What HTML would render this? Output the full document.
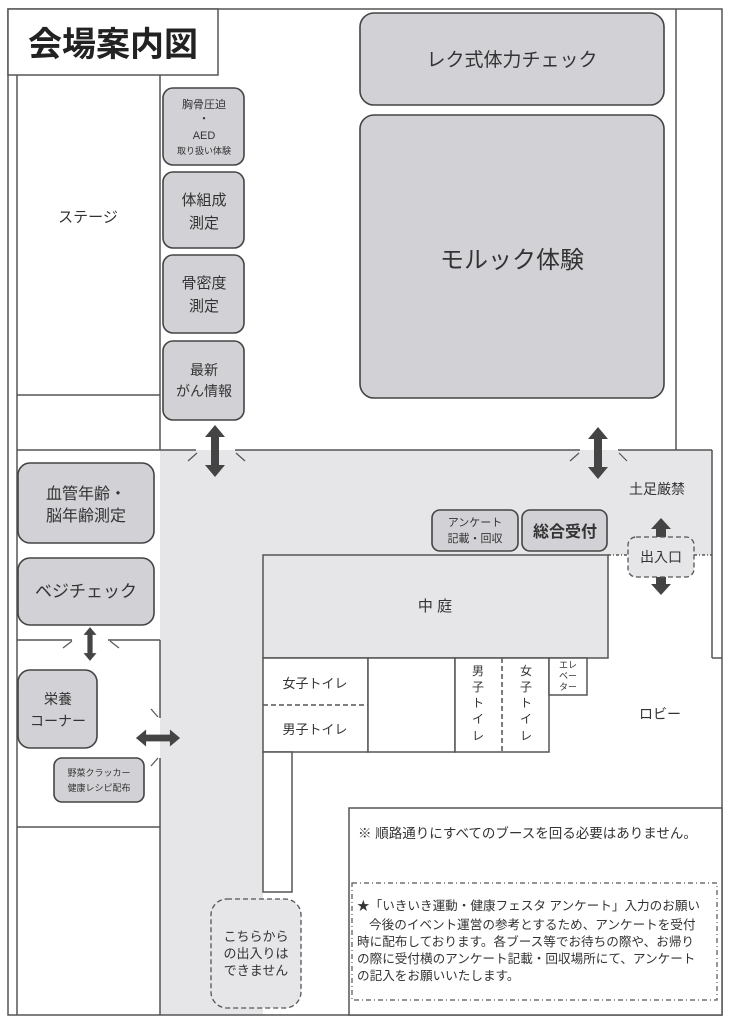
<!DOCTYPE html>
<html><head><meta charset="utf-8"><style>
html,body{margin:0;padding:0;background:#fff;}
svg{display:block;font-family:"Liberation Sans","Noto Sans CJK JP",sans-serif;}
</style></head><body>
<svg width="734" height="1024" viewBox="0 0 734 1024" xmlns="http://www.w3.org/2000/svg">
<defs>
<g id="av"><polygon points="0,-26 -10,-14 -4,-14 -4,14 -10,14 0,26 10,14 4,14 4,-14 10,-14" fill="#444"/></g>
</defs>
<rect width="734" height="1024" fill="#fff"/>
<path d="M160,450 H712 V555 H263 V1015 H160 Z" fill="#e6e6e8"/>
<g stroke="#555" stroke-width="1.5" fill="none">
<rect x="8" y="9" width="714" height="1006"/>
<line x1="676" y1="9" x2="676" y2="450"/>
<line x1="17" y1="75" x2="17" y2="1015"/>
<line x1="160" y1="75" x2="160" y2="450"/>
<line x1="17" y1="395" x2="160" y2="395"/>
<line x1="17" y1="450" x2="196" y2="450"/>
<line x1="235" y1="450" x2="580" y2="450"/>
<line x1="618" y1="450" x2="712" y2="450"/>
<line x1="712" y1="450" x2="712" y2="658"/>
<line x1="712" y1="658" x2="722" y2="658"/>
<line x1="17" y1="640" x2="72" y2="640"/>
<line x1="108" y1="640" x2="160" y2="640"/>
<line x1="160" y1="640" x2="160" y2="718"/>
<line x1="160" y1="758" x2="160" y2="1015"/>
<line x1="17" y1="827" x2="160" y2="827"/>
<rect x="263" y="555" width="345" height="103" fill="#e6e6e8"/>
<rect x="263" y="658" width="105" height="94" fill="#fff"/>
<line x1="263" y1="705" x2="368" y2="705" stroke-dasharray="5,3"/>
<rect x="368" y="658" width="87" height="94" fill="#fff"/>
<rect x="455" y="658" width="94" height="94" fill="#fff"/>
<line x1="502" y1="658" x2="502" y2="752" stroke-dasharray="5,3"/>
<rect x="549" y="658" width="38" height="37" fill="#fff"/>
<rect x="263" y="752" width="29" height="140" fill="#fff"/>
<line x1="608" y1="555" x2="628" y2="555" stroke-dasharray="3,2,1,2"/>
<line x1="694" y1="555" x2="712" y2="555" stroke-dasharray="3,2,1,2"/>
<rect x="349" y="808" width="373" height="207" fill="#fff"/>
</g>
<g stroke="#555" stroke-width="1.2">
<line x1="188" y1="461" x2="197" y2="453"/><line x1="236" y1="453" x2="245" y2="461"/>
<line x1="570" y1="461" x2="579" y2="453"/><line x1="619" y1="453" x2="627" y2="461"/>
<line x1="63" y1="648" x2="72" y2="641"/><line x1="110" y1="641" x2="119" y2="648"/>
<line x1="151" y1="709" x2="158" y2="717"/><line x1="151" y1="766" x2="158" y2="758"/>
</g>
<rect x="8" y="9" width="210" height="66" fill="#fff" stroke="#555" stroke-width="1.5"/>
<text x="113" y="56" font-size="34" font-weight="bold" text-anchor="middle" fill="#222">会場案内図</text>
<g fill="#d2d2d6" stroke="#444" stroke-width="1.6">
<rect x="360" y="13" width="304" height="92" rx="14"/>
<rect x="360" y="115" width="304" height="283" rx="14"/>
<rect x="163" y="88" width="81" height="77" rx="10"/>
<rect x="163" y="172" width="81" height="76" rx="10"/>
<rect x="163" y="255" width="81" height="78" rx="10"/>
<rect x="163" y="341" width="81" height="79" rx="10"/>
<rect x="18" y="463" width="136" height="80" rx="12"/>
<rect x="18" y="558" width="136" height="67" rx="12"/>
<rect x="18" y="670" width="79" height="78" rx="12"/>
<rect x="54" y="758" width="90" height="44" rx="8"/>
<rect x="432" y="510" width="86" height="41" rx="8"/>
<rect x="522" y="510" width="85" height="41" rx="8"/>
</g>
<g fill="#333" text-anchor="middle">
<text x="512" y="66" font-size="19">レク式体力チェック</text>
<text x="512" y="268" font-size="24">モルック体験</text>
<text x="204" y="108" font-size="11">胸骨圧迫</text>
<text x="204" y="122" font-size="11">・</text>
<text x="204" y="139" font-size="11">AED</text>
<text x="204" y="154" font-size="9">取り扱い体験</text>
<text x="204" y="205" font-size="15">体組成</text>
<text x="204" y="228" font-size="15">測定</text>
<text x="204" y="288" font-size="15">骨密度</text>
<text x="204" y="311" font-size="15">測定</text>
<text x="204" y="375" font-size="14">最新</text>
<text x="204" y="396" font-size="14">がん情報</text>
<text x="86" y="499" font-size="16">血管年齢・</text>
<text x="86" y="521" font-size="16">脳年齢測定</text>
<text x="86" y="597" font-size="17">ベジチェック</text>
<text x="58" y="704" font-size="14">栄養</text>
<text x="58" y="726" font-size="14">コーナー</text>
<text x="99" y="776" font-size="9">野菜クラッカー</text>
<text x="99" y="791" font-size="9">健康レシピ配布</text>
<text x="475" y="526" font-size="11">アンケート</text>
<text x="475" y="542" font-size="11">記載・回収</text>
<text x="565" y="537" font-size="16" font-weight="bold">総合受付</text>
<text x="88" y="222" font-size="15">ステージ</text>
<text x="435" y="611" font-size="15">中 庭</text>
<text x="315" y="688" font-size="13">女子トイレ</text>
<text x="315" y="734" font-size="13">男子トイレ</text>
<text x="657" y="494" font-size="14">土足厳禁</text>
<text x="660" y="719" font-size="14">ロビー</text>
</g>
<g fill="#333" text-anchor="middle" font-size="12">
<text x="478" y="675">男</text><text x="478" y="691">子</text><text x="478" y="707">ト</text><text x="478" y="723">イ</text><text x="478" y="740">レ</text>
<text x="526" y="675">女</text><text x="526" y="691">子</text><text x="526" y="707">ト</text><text x="526" y="723">イ</text><text x="526" y="740">レ</text>
</g>
<g fill="#333" text-anchor="middle" font-size="9">
<text x="568" y="668">エレ</text><text x="568" y="679">ベー</text><text x="568" y="690">ター</text>
</g>
<use href="#av" x="215" y="451"/>
<use href="#av" x="598" y="453"/>
<g transform="translate(90,644) scale(0.65)"><use href="#av"/></g>
<g transform="translate(158,738) rotate(90) scale(0.85)"><use href="#av"/></g>
<polygon points="661,518 651,529 656,529 656,537 666,537 666,529 671,529" fill="#444"/>
<polygon points="661,595 651,584 656,584 656,577 666,577 666,584 671,584" fill="#444"/>
<rect x="628" y="537" width="66" height="40" rx="8" fill="#e6e6e8" stroke="#555" stroke-width="1.3" stroke-dasharray="5,3"/>
<text x="661" y="562" font-size="14" text-anchor="middle" fill="#333">出入口</text>
<rect x="211" y="899" width="90" height="109" rx="16" fill="#e6e6e8" stroke="#555" stroke-width="1.3" stroke-dasharray="5,3"/>
<g fill="#333" text-anchor="middle" font-size="13">
<text x="256" y="941">こちらから</text><text x="256" y="958">の出入りは</text><text x="256" y="975">できません</text>
</g>
<text x="358" y="838" font-size="13.5" fill="#333">※ 順路通りにすべてのブースを回る必要はありません。</text>
<rect x="352" y="883" width="365" height="117" fill="none" stroke="#555" stroke-width="1.2" stroke-dasharray="5,3,1,3"/>
<g fill="#333" font-size="12.6">
<text x="357" y="910">★「いきいき運動・健康フェスタ アンケート」入力のお願い</text>
<text x="369" y="929">今後のイベント運営の参考とするため、アンケートを受付</text>
<text x="357" y="946">時に配布しております。各ブース等でお待ちの際や、お帰り</text>
<text x="357" y="963">の際に受付横のアンケート記載・回収場所にて、アンケート</text>
<text x="357" y="980">の記入をお願いいたします。</text>
</g>
</svg>
</body></html>
